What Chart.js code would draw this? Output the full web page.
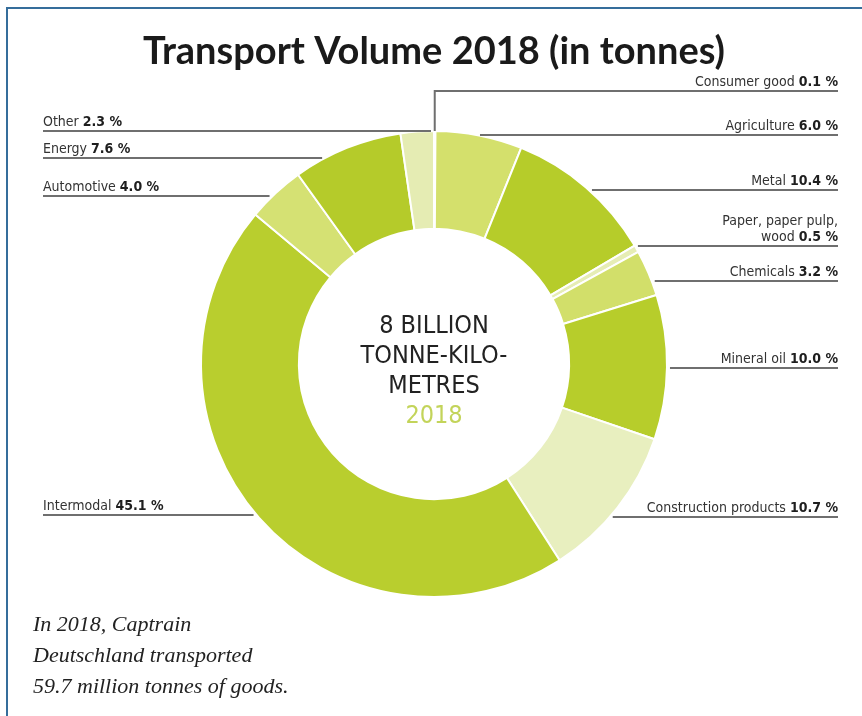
<!DOCTYPE html>
<html>
<head>
<meta charset="utf-8">
<script src="https://cdn.jsdelivr.net/npm/chart.js@4.4.0/dist/chart.umd.min.js"></script>
<style>
  html, body { margin: 0; padding: 0; background: #fff; }
  #wrap { position: relative; width: 862px; height: 716px; overflow: hidden; }
  #frame { position: absolute; left: 6px; top: 7px; right: -10px; bottom: -10px;
           border-left: 2px solid #356d9b; border-top: 2px solid #356d9b; }
  #box { position: absolute; left: 0; top: 0; width: 862px; height: 716px; }
  #note { position: absolute; left: 33px; top: 608px; font-family: "Liberation Serif", serif;
          font-style: italic; font-size: 22px; line-height: 31px; color: #222; }
</style>
</head>
<body>
<div id="wrap">
  <div id="frame"></div>
  <div id="box"><canvas id="donut"></canvas></div>
  <div id="note">In 2018, Captrain<br>Deutschland transported<br>59.7 million tonnes of goods.</div>
</div>
<script>
// share of transport volume per goods group, clockwise from 12 o'clock
var categories = ["Consumer good", "Agriculture", "Metal", ["Paper, paper pulp,", "wood"], "Chemicals",
                  "Mineral oil", "Construction products", "Intermodal", "Automotive", "Energy", "Other"];
var shares = [0.1, 6.0, 10.4, 0.5, 3.2, 10.0, 10.7, 45.1, 4.0, 7.6, 2.3];
var centerLines = ["8 BILLION", "TONNE-KILO-", "METRES"];
var centerYear = "2018";

var sliceColors = ["#e4ebb0", "#d4e06c", "#b6cc2a", "#e6edb5", "#d2df6a", "#b7cd2b",
                   "#e8efbf", "#b9ce2e", "#d5e173", "#b5cb2a", "#e5ecb3"];
// small vertical shifts of the leader lines so labels don't crowd
var leaderNudge = [0, 0, 3, -3, 8, 1, 9, -3, 3, 10, -1];

var labelFont = '"Liberation Sans Narrow", "DejaVu Sans Condensed", sans-serif';

function fmt(v) { return v.toFixed(1) + " %"; }

var leaderLabels = {
    id: 'leaderLabels',
    afterDatasetsDraw: function (chart) {
        var ctx = chart.ctx;
        var arcs = chart.getDatasetMeta(0).data;
        var leftX = 43, rightX = 838, gap = 3;
        ctx.save();
        arcs.forEach(function (arc, i) {
            var p = arc.getProps(['x', 'y', 'startAngle', 'endAngle', 'outerRadius'], true);
            var mid = (p.startAngle + p.endAngle) / 2;
            var r = p.outerRadius;
            var mx = p.x + Math.cos(mid) * r;
            var my = p.y + Math.sin(mid) * r;
            var right = Math.cos(mid) >= 0;
            var lineY, edgeX;

            ctx.strokeStyle = '#6f6f6f';
            ctx.lineWidth = 2;
            ctx.beginPath();
            if (Math.abs(mx - p.x) < 8) {
                // slice at the very top: go straight up, then out to the right
                lineY = my - 40;
                ctx.moveTo(mx, my);
                ctx.lineTo(mx, lineY);
                ctx.lineTo(rightX, lineY);
            } else {
                lineY = Math.round(my + leaderNudge[i]);
                var dy = lineY - p.y;
                var dx = Math.sqrt(Math.max(r * r - dy * dy, 0));
                edgeX = right ? p.x + dx + gap : p.x - dx - gap;
                ctx.moveTo(edgeX, lineY);
                ctx.lineTo(right ? rightX : leftX, lineY);
            }
            ctx.stroke();

            var name = chart.data.labels[i];
            var lines = Array.isArray(name) ? name.slice() : [name];
            var value = fmt(chart.data.datasets[0].data[i]);
            var base = lineY - 5;
            ctx.textBaseline = 'alphabetic';
            for (var k = lines.length - 1; k >= 0; k--) {
                var y = base - (lines.length - 1 - k) * 16;
                var txt = lines[k] + (k === lines.length - 1 ? ' ' : '');
                ctx.font = '14px ' + labelFont;
                var wName = ctx.measureText(txt).width;
                ctx.font = 'bold 14px ' + labelFont;
                var wVal = (k === lines.length - 1) ? ctx.measureText(value).width : 0;
                var x0 = right ? rightX - wName - wVal : leftX;
                ctx.textAlign = 'left';
                ctx.fillStyle = '#333';
                ctx.font = '14px ' + labelFont;
                ctx.fillText(txt, x0, y);
                if (k === lines.length - 1) {
                    ctx.fillStyle = '#1e1e1e';
                    ctx.font = 'bold 14px ' + labelFont;
                    ctx.fillText(value, x0 + wName, y);
                }
            }
        });

        // text in the hole
        var c = arcs[0].getProps(['x', 'y'], true);
        ctx.textAlign = 'center';
        ctx.textBaseline = 'middle';
        ctx.font = '25px ' + labelFont;
        ctx.fillStyle = '#222';
        centerLines.forEach(function (t, j) {
            ctx.fillText(t, c.x, c.y - 38 + j * 30);
        });
        ctx.fillStyle = '#c3d45a';
        ctx.fillText(centerYear, c.x, c.y - 38 + 3 * 30);
        ctx.restore();
    }
};

var chart = new Chart(document.getElementById('donut'), {
    type: 'doughnut',
    data: {
        labels: categories,
        datasets: [{
            data: shares,
            backgroundColor: sliceColors,
            borderColor: '#ffffff',
            borderWidth: 2
        }]
    },
    options: {
        responsive: true,
        maintainAspectRatio: false,
        animation: false,
        cutout: '58%',
        layout: { padding: { left: 6, right: 0, top: 0, bottom: 118 } },
        plugins: {
            legend: { display: false },
            tooltip: { enabled: false },
            title: {
                display: true,
                text: 'Transport Volume 2018 (in tonnes)',
                color: '#1a1a1a',
                font: { family: 'Lato', size: 38, weight: 'bold' },
                padding: { top: 29, bottom: 55.4 }
            }
        }
    },
    plugins: [leaderLabels]
});
</script>
</body>
</html>
